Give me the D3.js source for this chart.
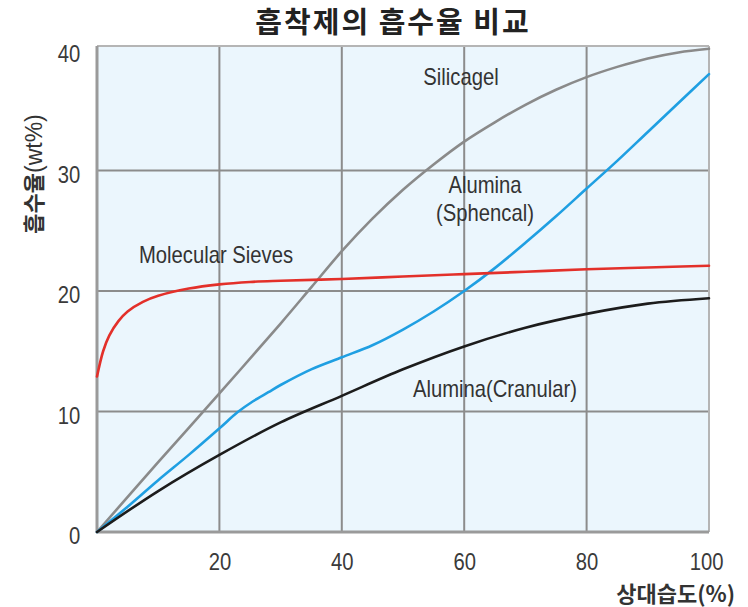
<!DOCTYPE html>
<html>
<head>
<meta charset="utf-8">
<script src="https://cdn.jsdelivr.net/npm/d3@7/dist/d3.min.js"></script>
<style>
  html, body { margin: 0; padding: 0; background: #ffffff; }
  svg { display: block; }
</style>
</head>
<body>
<svg id="chart" width="748" height="607"></svg>
<script>
// ---- Data ----
const title = "흡착제의 흡수율 비교";
const xTitle = "상대습도(%)";
const yTitleBold = "흡수율";
const yTitleRest = "(wt%)";
const xTicks = [20, 40, 60, 80, 100];
const yTicks = [0, 10, 20, 30, 40];

const silicagelX = [0, 10, 20, 30, 35, 40, 45, 50, 55, 60, 65, 70, 75, 80, 85, 90, 95, 100];
const silicagelY = [0, 5.8, 11.5, 17.3, 20.3, 23.3, 26.0, 28.4, 30.5, 32.4, 34.0, 35.45, 36.7, 37.75, 38.6, 39.3, 39.8, 40.1];

const sphencalX = [0, 5, 10, 15, 20, 23, 25.5, 28, 30, 35, 40, 45, 50, 55, 60, 65, 70, 75, 80, 85, 90, 95, 100];
const sphencalY = [0, 2.1, 4.3, 6.4, 8.6, 9.95, 10.85, 11.6, 12.2, 13.5, 14.5, 15.5, 16.8, 18.3, 20, 21.9, 24, 26.2, 28.5, 30.8, 33.2, 35.6, 38];

const sievesX = [0, 1, 2, 3.5, 5, 7.5, 10, 15, 20, 25, 30, 40, 50, 60, 70, 80, 90, 100];
const sievesY = [12.9, 15.0, 16.3, 17.5, 18.3, 19.1, 19.6, 20.2, 20.55, 20.75, 20.85, 21.0, 21.2, 21.4, 21.6, 21.8, 21.95, 22.1];

const cranularX = [0, 10, 20, 30, 40, 50, 60, 70, 80, 90, 100];
const cranularY = [0, 3.4, 6.4, 9.1, 11.3, 13.5, 15.4, 16.95, 18.1, 18.95, 19.4];

const series = [
  { name: "Silicagel", xs: silicagelX, ys: silicagelY, color: "#8a8a8a" },
  { name: "Alumina(Sphencal)", xs: sphencalX, ys: sphencalY, color: "#1f9fe2" },
  { name: "Molecular Sieves", xs: sievesX, ys: sievesY, color: "#e3302a" },
  { name: "Alumina(Cranular)", xs: cranularX, ys: cranularY, color: "#1c1c1c" }
];

// ---- Layout ----
const svg = d3.select("#chart");
const x = d3.scaleLinear().domain([0, 100]).range([97, 709]);
const y = d3.scaleLinear().domain([0, 40]).range([532, 50]);
const frameTop = 46;

const latinFont = "'Liberation Sans', Arial, sans-serif";
const krFont = "'Noto Sans CJK KR', 'Noto Sans', sans-serif";

// Background
svg.append("rect")
  .attr("x", x(0)).attr("y", frameTop)
  .attr("width", x(100) - x(0)).attr("height", y(0) - frameTop)
  .attr("fill", "#ebf6fd");

// Grid lines
const gridColor = "#8c8c8c";
svg.append("g").selectAll("line").data([20, 40, 60, 80]).join("line")
  .attr("x1", d => x(d)).attr("x2", d => x(d))
  .attr("y1", frameTop).attr("y2", y(0))
  .attr("stroke", gridColor).attr("stroke-width", 2);
svg.append("g").selectAll("line").data([10, 20, 30]).join("line")
  .attr("x1", x(0)).attr("x2", x(100))
  .attr("y1", d => y(d)).attr("y2", d => y(d))
  .attr("stroke", gridColor).attr("stroke-width", 2);

// Frame
svg.append("line").attr("x1", x(0)).attr("x2", x(100)).attr("y1", frameTop).attr("y2", frameTop)
  .attr("stroke", "#b5b5b5").attr("stroke-width", 2);
svg.append("line").attr("x1", x(100)).attr("x2", x(100)).attr("y1", frameTop).attr("y2", y(0))
  .attr("stroke", "#b5b5b5").attr("stroke-width", 2);
svg.append("line").attr("x1", x(0)).attr("x2", x(0)).attr("y1", frameTop).attr("y2", y(0))
  .attr("stroke", "#9a9a9a").attr("stroke-width", 3);
svg.append("line").attr("x1", x(0)).attr("x2", x(100)).attr("y1", y(0)).attr("y2", y(0))
  .attr("stroke", "#9a9a9a").attr("stroke-width", 3);

// Curves
const line = d3.line().curve(d3.curveCatmullRom.alpha(0.5)).x(d => x(d[0])).y(d => y(d[1]));
series.forEach(s => {
  const pts = s.xs.map((v, i) => [v, s.ys[i]]);
  svg.append("path").datum(pts)
    .attr("d", line)
    .attr("fill", "none")
    .attr("stroke", s.color)
    .attr("stroke-width", 2.6)
    .attr("stroke-linecap", "round");
});

// Axes
const xAxis = svg.append("g")
  .attr("transform", `translate(0,${y(0)})`)
  .call(d3.axisBottom(x).tickValues(xTicks).tickSize(0).tickPadding(22).tickFormat(d3.format("d")));
const yAxis = svg.append("g")
  .attr("transform", `translate(${x(0)},0)`)
  .call(d3.axisLeft(y).tickValues(yTicks).tickSize(0).tickPadding(19).tickFormat(d3.format("d")));
[xAxis, yAxis].forEach(g => {
  g.select(".domain").remove();
  g.selectAll("text")
    .attr("font-family", latinFont)
    .attr("font-size", 23)
    .attr("fill", "#3a3a3a")
    .attr("transform", "scale(0.88,1)");
});
yAxis.selectAll("text").attr("dy", "0.5em");
xAxis.selectAll("text").filter(d => d === 100).attr("text-anchor", "end").attr("dx", 16);

// Series labels (narrow latin)
function narrowText(txt, cx, cy, anchor) {
  svg.append("text")
    .attr("transform", `translate(${cx},${cy}) scale(0.88,1)`)
    .attr("text-anchor", anchor || "middle")
    .attr("font-family", latinFont)
    .attr("font-size", 23)
    .attr("fill", "#333")
    .text(txt);
}
narrowText("Silicagel", 461, 85);
narrowText("Alumina", 485, 193);
narrowText("(Sphencal)", 485, 221);
narrowText("Molecular  Sieves", 216, 263);
narrowText("Alumina(Cranular)", 495, 397);

// Title
svg.append("text")
  .attr("x", 393).attr("y", 33)
  .attr("text-anchor", "middle")
  .attr("font-family", krFont)
  .attr("font-weight", "bold")
  .attr("font-size", 29)
  .attr("letter-spacing", 2)
  .attr("fill", "#222")
  .text(title);

// X title
svg.append("text")
  .attr("x", 735).attr("y", 602)
  .attr("text-anchor", "end")
  .attr("font-family", krFont)
  .attr("font-weight", "bold")
  .attr("font-size", 22)
  .attr("fill", "#333")
  .text(xTitle);

// Y title
const yt = svg.append("text")
  .attr("transform", "translate(42,174) rotate(-90)")
  .attr("text-anchor", "middle")
  .attr("font-family", krFont)
  .attr("font-size", 22)
  .attr("fill", "#333");
yt.append("tspan").attr("font-weight", "bold").text(yTitleBold);
yt.append("tspan").attr("font-family", latinFont).attr("font-size", 23).text(yTitleRest);
</script>
</body>
</html>
